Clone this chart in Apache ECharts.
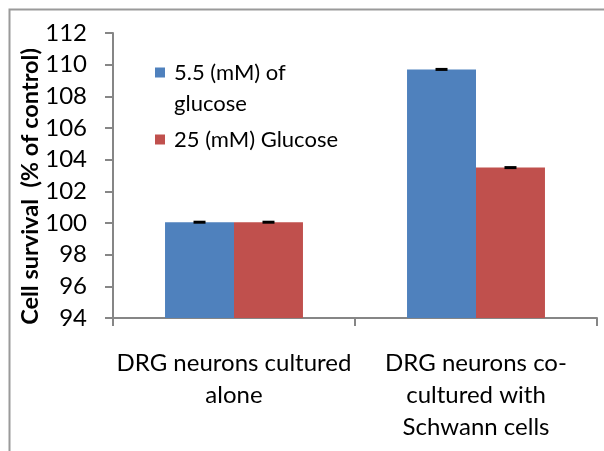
<!DOCTYPE html>
<html>
<head>
<meta charset="utf-8">
<script src="https://cdn.jsdelivr.net/npm/echarts@6/dist/echarts.min.js"></script>
<style>
  html, body { margin: 0; padding: 0; background: #fff; }
  #chart { width: 604px; height: 451px; }
</style>
</head>
<body>
<div id="chart"></div>
<script>
// categories and values
var categories = ["DRG neurons cultured\nalone", "DRG neurons co-\ncultured with\nSchwann cells"];
var seriesNames = ["5.5 (mM) of glucose", "25 (mM) Glucose"];
var lowGlucose = [100.05, 109.7];
var highGlucose = [100.05, 103.5];
var lowGlucoseErr = [0.08, 0.06];
var highGlucoseErr = [0.08, 0.08];
var yTicks = [94, 96, 98, 100, 102, 104, 106, 108, 110, 112];

var FONT = "Lato";
var CAT_GAP = 0.43;

var myChart = echarts.init(document.getElementById("chart"));

// error bar drawn on top of the bar, shifted to the bar centre
function errorRenderer(values, errs, side) {
  return function (params, api) {
    var i = api.value(0);
    var v = values[i], e = errs[i];
    var cw = api.size([1, 0])[0];
    var bw = cw * (1 - CAT_GAP) / 2;
    var top = api.coord([i, v + e]);
    var bot = api.coord([i, v - e]);
    var cx = top[0] + side * bw / 2;
    var h = Math.max(3, bot[1] - top[1]);
    return {
      type: "rect",
      shape: { x: cx - 6, y: (top[1] + bot[1]) / 2 - h / 2, width: 12, height: h },
      style: { fill: "#000" }
    };
  };
}

var option = {
  animation: false,
  textStyle: { fontFamily: FONT },
  graphic: [{
    type: "rect",
    shape: { x: 9.5, y: 9.5, width: 700, height: 700 },
    style: { fill: "none", stroke: "#9a9a9a", lineWidth: 2 },
    silent: true
  }],
  legend: {
    orient: "vertical",
    left: 150,
    top: 21,
    itemWidth: 10,
    itemHeight: 10,
    itemGap: 5,
    icon: "rect",
    data: seriesNames,
    // blank first line keeps the square level with the first text line
    formatter: function (name) {
      return name === seriesNames[0] ? "\n5.5 (mM) of\nglucose" : name;
    },
    textStyle: { fontFamily: FONT, fontSize: 22, color: "#000", lineHeight: 31, padding: [0, 0, 0, 4] }
  },
  grid: { left: 113, right: 7, top: 33, bottom: 133 },
  xAxis: {
    type: "category",
    data: categories,
    axisLine: { lineStyle: { color: "#868686", width: 2 } },
    axisTick: { show: true, length: 8, lineStyle: { color: "#868686", width: 2 } },
    axisLabel: {
      color: "#000",
      fontFamily: FONT,
      fontSize: 24,
      lineHeight: 32,
      margin: 29,
      interval: 0
    }
  },
  yAxis: {
    type: "value",
    min: yTicks[0],
    max: yTicks[yTicks.length - 1],
    interval: 2,
    name: "Cell survival  (% of control)",
    nameLocation: "middle",
    nameGap: 71,
    nameMoveOverlap: false,
    nameTextStyle: {
      color: "#000",
      fontFamily: FONT,
      fontSize: 23.5,
      fontWeight: "bold",
      padding: [0, 22, 0, 0]
    },
    axisLine: { show: true, lineStyle: { color: "#868686", width: 2 } },
    axisTick: { show: true, length: 8, lineStyle: { color: "#868686", width: 2 } },
    splitLine: { show: false },
    axisLabel: { color: "#000", fontFamily: FONT, fontSize: 24, margin: 26 }
  },
  series: [
    {
      name: seriesNames[0],
      type: "bar",
      data: lowGlucose,
      barGap: "0%",
      barCategoryGap: "43%",
      itemStyle: { color: "#4F81BD" }
    },
    {
      name: seriesNames[1],
      type: "bar",
      data: highGlucose,
      barGap: "0%",
      barCategoryGap: "43%",
      itemStyle: { color: "#C0504D" }
    },
    {
      type: "custom",
      renderItem: errorRenderer(lowGlucose, lowGlucoseErr, -1),
      data: [0, 1],
      z: 10
    },
    {
      type: "custom",
      renderItem: errorRenderer(highGlucose, highGlucoseErr, 1),
      data: [0, 1],
      z: 10
    }
  ]
};

myChart.setOption(option);
window.addEventListener("resize", function () {
  myChart.resize();
});
</script>
</body>
</html>
